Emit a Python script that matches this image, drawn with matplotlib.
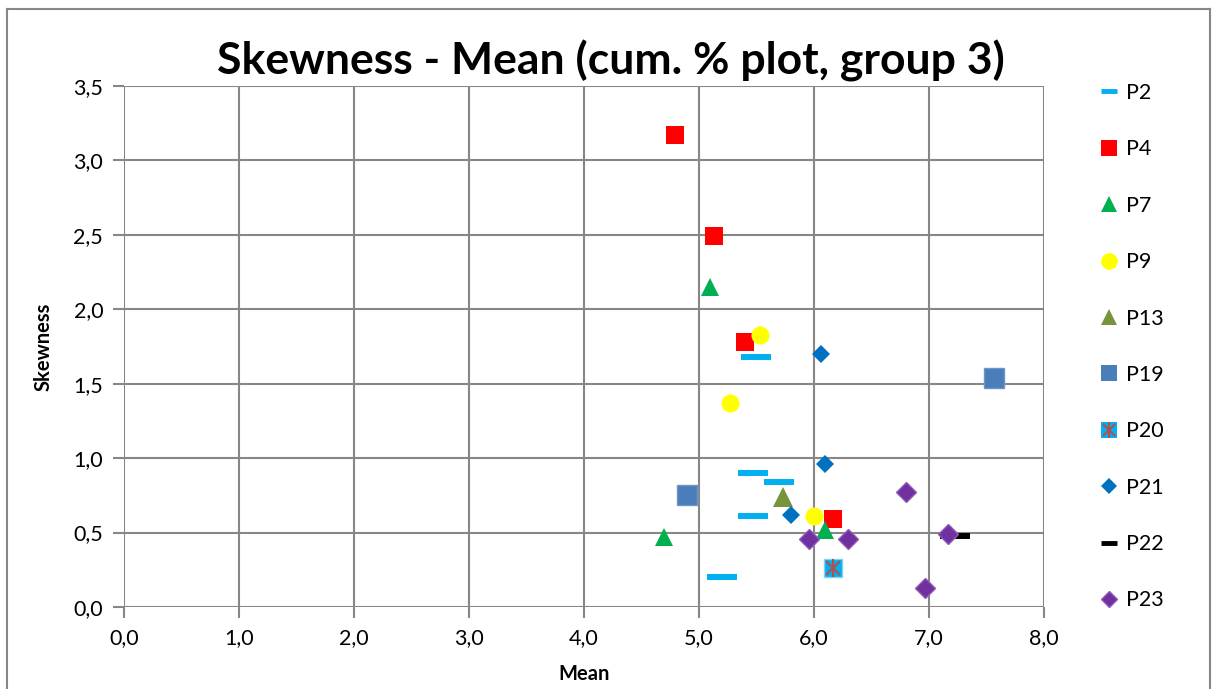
import numpy as np
import matplotlib.pyplot as plt
import matplotlib as mpl
from matplotlib.lines import Line2D
from matplotlib.legend_handler import HandlerTuple

# ---- style ----
FONT_FAMILY = "Lato"
FONT_SIZE_TITLE = 32
FONT_SIZE_TICK = 15.5
FONT_SIZE_LABEL = 14.5
FONT_SIZE_LEGEND = 15.5
GRID_COLOR = "#878787"

mpl.rcParams.update({
    "font.family": "sans-serif",
    "font.sans-serif": [FONT_FAMILY, "DejaVu Sans"],
})

# ---- data (Mean, Skewness) per series ----
p2_x = [5.50, 5.47, 5.70, 5.47, 5.20]
p2_y = [1.68, 0.90, 0.84, 0.61, 0.20]

p4_x = [4.79, 5.13, 5.40, 6.17]
p4_y = [3.17, 2.49, 1.78, 0.59]

p7_x = [5.10, 4.70, 6.10]
p7_y = [2.15, 0.47, 0.52]

p9_x = [5.53, 5.27, 6.00]
p9_y = [1.83, 1.37, 0.61]

p13_x = [5.73]
p13_y = [0.74]

p19_x = [4.90, 7.57]
p19_y = [0.75, 1.54]

p20_x = [6.17]
p20_y = [0.26]

p21_x = [6.06, 6.10, 5.80]
p21_y = [1.70, 0.96, 0.62]

p22_x = [7.23]
p22_y = [0.48]

p23_x = [5.96, 6.30, 6.80, 7.17, 6.97]
p23_y = [0.46, 0.46, 0.77, 0.49, 0.13]

x_ticks = np.arange(0, 8.01, 1.0)
y_ticks = np.arange(0, 3.51, 0.5)

# ---- figure ----
fig = plt.figure(figsize=(12.13, 6.89), dpi=100)
ax = fig.add_axes([124 / 1213, 1 - 607 / 689, (1043.7 - 124) / 1213, (607 - 86) / 689])

# outer chart border
W, H = 1213, 689
for xs, ys in [((7, 7), (0, 680)), ((7, 1210), (680, 680)), ((1210, 1210), (680, 0))]:
    fig.add_artist(Line2D([v / W for v in xs], [v / H for v in ys],
                          color=GRID_COLOR, linewidth=1.5, transform=fig.transFigure))

handles = []
labels = []

ax.plot(p2_x, p2_y, ls="none", marker="_", ms=21.6, mew=4.3, color="#00B0F0", zorder=3)
handles.append(Line2D([], [], ls="none", marker="_", ms=12, mew=3.5, color="#00B0F0")); labels.append("P2")

ax.plot(p4_x, p4_y, ls="none", marker="s", ms=13.5, mew=0, color="#FF0000", zorder=3)
handles.append(Line2D([], [], ls="none", marker="s", ms=12, mew=0, color="#FF0000")); labels.append("P4")

ax.plot(p7_x, p7_y, ls="none", marker="^", ms=13, mew=0, color="#00B050", zorder=3)
handles.append(Line2D([], [], ls="none", marker="^", ms=12, mew=0, color="#00B050")); labels.append("P7")

ax.plot(p9_x, p9_y, ls="none", marker="o", ms=13, mew=0, color="#FFFF00", zorder=3)
handles.append(Line2D([], [], ls="none", marker="o", ms=12, mew=0, color="#FFFF00")); labels.append("P9")

ax.plot(p13_x, p13_y, ls="none", marker="^", ms=14, mew=0, color="#77933C", zorder=3)
handles.append(Line2D([], [], ls="none", marker="^", ms=12, mew=0, color="#77933C")); labels.append("P13")

ax.plot(p19_x, p19_y, ls="none", marker="s", ms=14, mew=1, mfc="#4A7EBB", mec="#6F94C6", zorder=3)
handles.append(Line2D([], [], ls="none", marker="s", ms=12, mew=0, color="#4A7EBB")); labels.append("P19")

ax.plot(p20_x, p20_y, ls="none", marker="s", ms=13.5, mew=1, mfc="#00B0F0", mec="#7FD3F5", zorder=3)
ax.plot(p20_x, p20_y, ls="none", marker="x", ms=10, mew=1.5, color="#B0504D", zorder=4)
ax.plot(p20_x, p20_y, ls="none", marker="|", ms=13, mew=1.5, color="#B0504D", zorder=4)
handles.append((Line2D([], [], ls="none", marker="s", ms=12, mew=0, color="#00B0F0"),
                Line2D([], [], ls="none", marker="x", ms=9, mew=1.5, color="#B0504D"),
                Line2D([], [], ls="none", marker="|", ms=12, mew=1.5, color="#B0504D")))
labels.append("P20")

ax.plot(p21_x, p21_y, ls="none", marker="D", ms=9, mew=0, color="#0070C0", zorder=3)
handles.append(Line2D([], [], ls="none", marker="D", ms=8.5, mew=0, color="#0070C0")); labels.append("P21")

ax.plot(p22_x, p22_y, ls="none", marker="_", ms=21.6, mew=4.3, color="black", zorder=2)
handles.append(Line2D([], [], ls="none", marker="_", ms=12, mew=3.5, color="black")); labels.append("P22")

ax.plot(p23_x, p23_y, ls="none", marker="D", ms=10, mew=1, mfc="#7030A0", mec="#8E5AB5", zorder=4)
handles.append(Line2D([], [], ls="none", marker="D", ms=8.5, mew=1, mfc="#7030A0", mec="#8E5AB5")); labels.append("P23")

# ---- axes styling ----
ax.set_xlim(0, 8)
ax.set_ylim(0, 3.5)
ax.set_xticks(x_ticks)
ax.set_yticks(y_ticks)
ax.set_xticklabels([f"{v:.1f}".replace(".", ",") for v in x_ticks])
ax.set_yticklabels([f"{v:.1f}".replace(".", ",") for v in y_ticks])
ax.grid(True, color=GRID_COLOR, linewidth=1.5, zorder=0)
ax.set_axisbelow(True)
for s in ax.spines.values():
    s.set_visible(False)
ax.tick_params(axis="both", length=8, width=1.5, color=GRID_COLOR,
               labelsize=FONT_SIZE_TICK, pad=7)

ax.set_xlabel("Mean", fontsize=FONT_SIZE_LABEL, fontweight="bold", labelpad=12)
ax.set_ylabel("Skewness", fontsize=FONT_SIZE_LABEL, fontweight="bold", labelpad=14)

fig.text(611 / W, 1 - 61 / H, "Skewness - Mean (cum. % plot, group 3)",
         fontsize=FONT_SIZE_TITLE, fontweight="bold", ha="center", va="center")

fig.legend(handles, labels, loc="upper left", bbox_to_anchor=(1098 / W, 1 - 83 / H),
           frameon=False, fontsize=FONT_SIZE_LEGEND, labelspacing=1.69,
           handlelength=1.0, handletextpad=0.3, borderaxespad=0, borderpad=0,
           handler_map={tuple: HandlerTuple(ndivide=1, pad=0)})

fig.savefig("out.png", dpi=100)
